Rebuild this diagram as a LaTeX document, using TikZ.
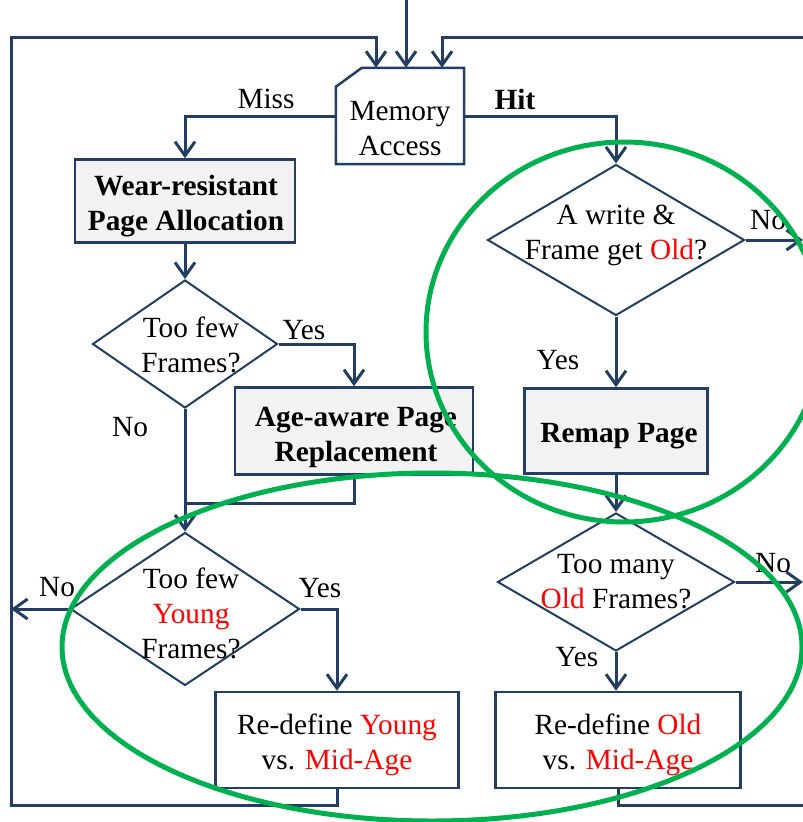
\documentclass[tikz,border=0pt]{standalone}
\usepackage{fontspec}
\setmainfont{Liberation Serif}
\usetikzlibrary{shapes.geometric,arrows.meta}
\definecolor{navy}{RGB}{36,62,99}
\definecolor{ringgreen}{RGB}{0,176,80}
\definecolor{boxgray}{RGB}{242,242,242}

\begin{document}
\begin{tikzpicture}[x=1pt, y=-1pt,
    every node/.style={font=\fontsize{29.3}{35}\selectfont, inner sep=0pt, align=center},
    flow/.style={draw=navy, line width=3pt, -{Straight Barb[length=14pt,width=20pt]}},
    link/.style={draw=navy, line width=3pt},
    procbox/.style={draw=navy, line width=2.5pt, fill=boxgray},
    plainbox/.style={draw=navy, line width=2.5pt, fill=white},
    boldtext/.style={font=\fontsize{29.3}{35}\selectfont\bfseries},
    decision/.style={diamond, draw=navy, line width=2pt, fill=white},
    ring/.style={draw=ringgreen, line width=5pt}]
    \useasboundingbox (0,0) rectangle (803,822);

    % shapes
    \node[minimum width=128pt, minimum height=96pt] (ma) at (400,116) {};
    \draw[plainbox] ([yshift=-19pt]ma.north west) -- ([xshift=26pt]ma.north west)
      -- (ma.north east) -- (ma.south east) -- (ma.south west) -- cycle;
    \node (matext) at (400,129) {Memory\\Access};

    \node[procbox, minimum width=220pt, minimum height=83pt] (wr) at (185,201) {};
    \node[boldtext] (wrtext) at (186,206) {Wear-resistant\\Page Allocation};
    \node[decision, minimum width=185pt, minimum height=128pt] (d1) at (185,344) {};
    \node (d1text) at (191,345) {Too few\\Frames?};
    \node[procbox, minimum width=238pt, minimum height=87pt] (ap) at (354,431) {};
    \node[boldtext] (aptext) at (356,437) {Age-aware Page\\Replacement};
    \node[decision, minimum width=229pt, minimum height=153pt] (d2) at (185,609) {};
    \node (d2text) at (191,613) {Too few\\\textcolor{red}{Young}\\Frames?};
    \node[plainbox, minimum width=243pt, minimum height=96pt] (ry) at (337,740) {};
    \node (rytext) at (337,745) {Re-define \textcolor{red}{Young}\\vs. \textcolor{red}{Mid-Age}};

    \node[decision, minimum width=257pt, minimum height=151pt] (d3) at (616,240) {};
    \node (d3text) at (616,235) {A write \&\\Frame get \textcolor{red}{Old}?};
    \node[procbox, minimum width=183pt, minimum height=85pt] (rp) at (616,431) {};
    \node[boldtext] (rptext) at (619,436) {Remap Page};
    \node[decision, minimum width=237pt, minimum height=138pt] (d4) at (616,582) {};
    \node (d4text) at (616,582) {Too many\\\textcolor{red}{Old} Frames?};
    \node[plainbox, minimum width=245pt, minimum height=96pt] (ro) at (618,740) {};
    \node (rotext) at (618,745) {Re-define \textcolor{red}{Old}\\vs. \textcolor{red}{Mid-Age}};

    % loop corners
    \coordinate (entry) at (406,0);
    \coordinate (lb) at (11,805);
    \coordinate (lt) at (11,37);
    \coordinate (rb) at (806,805);
    \coordinate (rt) at (806,37);
    \coordinate (rtip) at (803,0);
    \coordinate (join) at (185,503);

    % connectors
    \draw[flow] (entry) -- (entry |- ma.north);
    \draw[flow] (ry.south) |- (lb) -- (lt) -| ([xshift=-24pt]ma.north);
    \draw[flow] (ro.south) |- (rb) -- (rt) -| ([xshift=42pt]ma.north);
    \draw[flow] (ma.west) -| (wr.north);
    \draw[flow] (ma.east) -| (d3.north);
    \draw[flow] (wr.south) -- (d1.north);
    \draw[flow] (d1.east) -| (ap.north);
    \draw[flow] (d1.south) -- (d2.north);
    \draw[link] (ap.south) |- (join);
    \draw[flow] (d2.east) -| (ry.north);
    \draw[flow] (d2.west) -- (d2.west -| lt);
    \draw[flow] (d3.east) -- (d3.east -| rtip);
    \draw[flow] (d3.south) -- (rp.north);
    \draw[flow] (rp.south) -- (d4.north);
    \draw[flow] (d4.east) -- (d4.east -| rtip);
    \draw[flow] (d4.south) -- (d4.south |- ro.north);

    % labels
    \node (miss) at (266,99) {Miss};
    \node[boldtext] (hit) at (515,99) {Hit};
    \node (yes1) at (304,330) {Yes};
    \node (no1) at (130,427) {No};
    \node (yes2) at (320,588) {Yes};
    \node (no2) at (57,587) {No};
    \node (no3) at (768,220) {No};
    \node (yes3) at (558,360) {Yes};
    \node (no4) at (773,563) {No};
    \node (yes4) at (577,657) {Yes};

    % highlight rings
    \draw[ring] (624,332) ellipse [x radius=198pt, y radius=190pt];
    \draw[ring] (432,647) ellipse [x radius=370pt, y radius=174pt];
\end{tikzpicture}
\end{document}
